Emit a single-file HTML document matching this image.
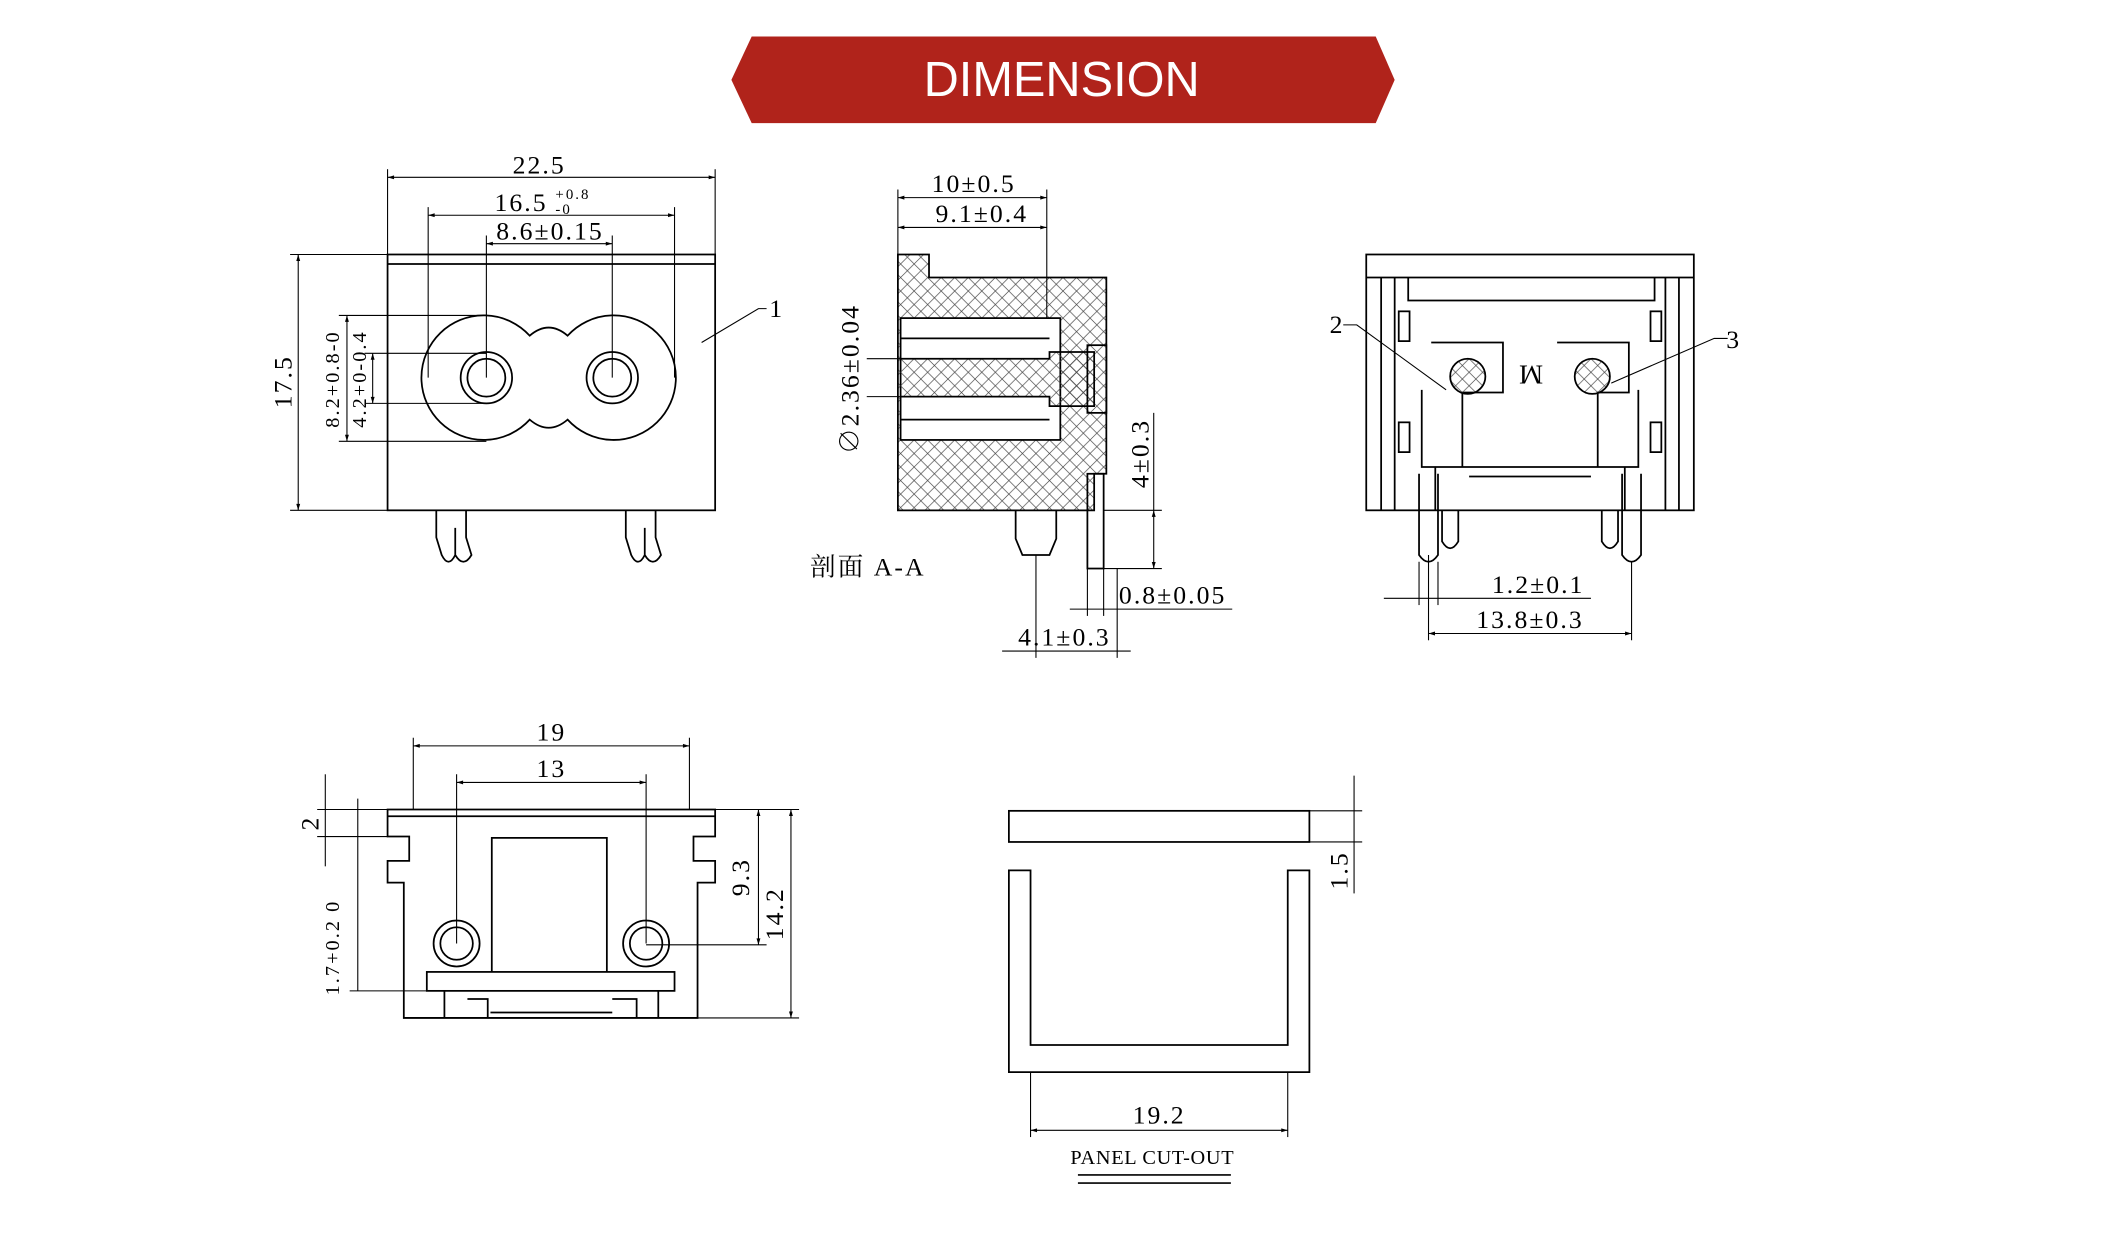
<!DOCTYPE html>
<html><head><meta charset="utf-8"><style>
html,body{margin:0;padding:0;background:#fff}
svg{display:block}
text{font-family:"Liberation Serif","Noto Serif CJK SC",serif;fill:#000}
.d{font-size:19px;letter-spacing:1.5px}
</style></head><body>
<svg width="2122" height="1244" viewBox="0 0 1567 919" xmlns="http://www.w3.org/2000/svg">
<defs>
<marker id="a" viewBox="0 0 10 10" refX="10" refY="5" markerWidth="8" markerHeight="6" orient="auto-start-reverse"><path d="M0,2 L10,5 L0,8z" fill="#000"/></marker>
<pattern id="h" width="10" height="10" patternUnits="userSpaceOnUse"><path d="M0,0 L10,10 M10,0 L0,10" stroke="#444" stroke-width="0.5"/></pattern>
</defs>
<polygon points="555,27 1016,27 1030,59 1016,91 555,91 540,59" fill="#b0231b"/>
<text x="784" y="71" text-anchor="middle" style="font-family:'Liberation Sans',sans-serif;font-size:36px;fill:#fff">DIMENSION</text>

<g fill="none" stroke="#000" stroke-width="1.3">
<rect x="286" y="188" width="242" height="189"/>
<line x1="286" y1="195" x2="528" y2="195"/>
<path d="M391,248 A46,46 0 1 0 391,310 Q405,322 419,310 A46,46 0 1 0 419,248 Q405,236 391,248z"/>
<circle cx="359" cy="279" r="19"/><circle cx="359" cy="279" r="14"/>
<circle cx="452" cy="279" r="19"/><circle cx="452" cy="279" r="14"/>
<path d="M322,377 V397 L326,410 Q331,420 336,410 V390 M344,377 V397 L348,410 Q342,420 336,410"/>
<path d="M462,377 V397 L466,410 Q471,420 476,410 V390 M484,377 V397 L488,410 Q482,420 476,410"/>
<g stroke-width="0.8">
<line x1="286" y1="131" x2="528" y2="131" marker-start="url(#a)" marker-end="url(#a)"/>
<line x1="286" y1="125" x2="286" y2="188"/><line x1="528" y1="125" x2="528" y2="188"/>
<line x1="316" y1="159" x2="498" y2="159" marker-start="url(#a)" marker-end="url(#a)"/>
<line x1="316" y1="153" x2="316" y2="279"/><line x1="498" y1="153" x2="498" y2="279"/>
<line x1="359" y1="180" x2="452" y2="180" marker-start="url(#a)" marker-end="url(#a)"/>
<line x1="359" y1="174" x2="359" y2="279"/><line x1="452" y1="174" x2="452" y2="279"/>
<line x1="220" y1="188" x2="220" y2="377" marker-start="url(#a)" marker-end="url(#a)"/>
<line x1="214" y1="188" x2="286" y2="188"/><line x1="214" y1="377" x2="286" y2="377"/>
<line x1="256" y1="233" x2="256" y2="326" marker-start="url(#a)" marker-end="url(#a)"/>
<line x1="250" y1="233" x2="359" y2="233"/><line x1="250" y1="326" x2="359" y2="326"/>
<line x1="275" y1="261" x2="275" y2="298" marker-start="url(#a)" marker-end="url(#a)"/>
<line x1="269" y1="261" x2="359" y2="261"/><line x1="269" y1="298" x2="359" y2="298"/>
<polyline points="518,253 560,228 566,228"/>
</g>

<path d="M663,188 H686 V205 H817 V350 H808 V377 H663z" fill="url(#h)"/>
<rect x="665" y="235" width="118" height="90" fill="#fff"/>
<path d="M665,265 H775 V260 H808 V300 H775 V293 H665" fill="url(#h)"/>
<line x1="665" y1="250" x2="775" y2="250"/><line x1="665" y1="310" x2="775" y2="310"/>
<rect x="803" y="255" width="14" height="50"/>
<path d="M750,377 V398 L755,410 H775 L780,398 V377"/>
<rect x="803" y="350" width="12" height="70"/>
<g stroke-width="0.8">
<line x1="663" y1="146" x2="773" y2="146" marker-start="url(#a)" marker-end="url(#a)"/>
<line x1="663" y1="168" x2="773" y2="168" marker-start="url(#a)" marker-end="url(#a)"/>
<line x1="663" y1="140" x2="663" y2="188"/><line x1="773" y1="140" x2="773" y2="235"/>
<line x1="640" y1="265" x2="665" y2="265"/><line x1="640" y1="293" x2="665" y2="293"/>
<line x1="852" y1="377" x2="852" y2="420" marker-start="url(#a)" marker-end="url(#a)"/>
<line x1="852" y1="305" x2="852" y2="377"/>
<line x1="815" y1="377" x2="858" y2="377"/><line x1="815" y1="420" x2="858" y2="420"/>
<line x1="803" y1="420" x2="803" y2="455"/><line x1="815" y1="420" x2="815" y2="455"/>
<line x1="790" y1="450" x2="910" y2="450"/>
<line x1="765" y1="410" x2="765" y2="486"/><line x1="825" y1="420" x2="825" y2="486"/>
<line x1="740" y1="481" x2="835" y2="481"/>
</g>

<rect x="1009" y="188" width="242" height="189"/>
<line x1="1009" y1="205" x2="1251" y2="205"/>
<path d="M1040,205 V222 H1222 V205"/>
<path d="M1020,205 V377 M1240,205 V377 M1030,205 V377 M1230,205 V377"/>
<rect x="1033" y="230" width="8" height="22"/><rect x="1033" y="312" width="8" height="22"/>
<rect x="1219" y="230" width="8" height="22"/><rect x="1219" y="312" width="8" height="22"/>
<path d="M1057,253 H1110 V290 H1080 V345 M1150,253 H1203 V290 H1180 V345"/>
<path d="M1050,288 V345 H1210 V288 M1060,345 V377 M1200,345 V377 M1085,352 H1175"/>
<circle cx="1084" cy="278" r="13" fill="url(#h)"/><circle cx="1176" cy="278" r="13" fill="url(#h)"/>
<path d="M1048,350 V410 Q1055,420 1062,410 V350 M1065,377 V400 Q1071,410 1077,400 V377"/>
<path d="M1198,350 V410 Q1205,420 1212,410 V350 M1183,377 V400 Q1189,410 1195,400 V377"/>
<g stroke-width="0.8">
<polyline points="992,240 1002,240 1068,288"/>
<polyline points="1276,250 1266,250 1190,283"/>
<line x1="1048" y1="415" x2="1048" y2="447"/><line x1="1062" y1="415" x2="1062" y2="447"/>
<line x1="1022" y1="442" x2="1175" y2="442"/>
<line x1="1055" y1="410" x2="1055" y2="473"/><line x1="1205" y1="415" x2="1205" y2="473"/>
<line x1="1055" y1="468" x2="1205" y2="468" marker-start="url(#a)" marker-end="url(#a)"/>
</g>

<path d="M286,598 H528 V618 H512 V636 H528 V652 H515 V752 H298 V652 H286 V636 H302 V618 H286z"/>
<line x1="286" y1="603" x2="528" y2="603"/>
<path d="M363,718 V619 H448 V718"/>
<rect x="315" y="718" width="183" height="14"/>
<path d="M328,732 V752 M486,732 V752 M345,738 H360 V752 M452,738 H470 V752 M362,748 H452"/>
<circle cx="337" cy="697" r="17"/><circle cx="337" cy="697" r="12"/>
<circle cx="477" cy="697" r="17"/><circle cx="477" cy="697" r="12"/>
<g stroke-width="0.8">
<line x1="305" y1="551" x2="509" y2="551" marker-start="url(#a)" marker-end="url(#a)"/>
<line x1="305" y1="545" x2="305" y2="598"/><line x1="509" y1="545" x2="509" y2="598"/>
<line x1="337" y1="578" x2="477" y2="578" marker-start="url(#a)" marker-end="url(#a)"/>
<line x1="337" y1="572" x2="337" y2="697"/><line x1="477" y1="572" x2="477" y2="697"/>
<line x1="560" y1="598" x2="560" y2="698" marker-start="url(#a)" marker-end="url(#a)"/>
<line x1="584" y1="598" x2="584" y2="752" marker-start="url(#a)" marker-end="url(#a)"/>
<line x1="528" y1="598" x2="590" y2="598"/><line x1="477" y1="698" x2="566" y2="698"/><line x1="515" y1="752" x2="590" y2="752"/>
<line x1="240" y1="572" x2="240" y2="640"/>
<line x1="234" y1="598" x2="286" y2="598"/><line x1="234" y1="618" x2="286" y2="618"/>
<line x1="264" y1="590" x2="264" y2="732"/><line x1="258" y1="732" x2="315" y2="732"/>
</g>

<rect x="745" y="599" width="222" height="23"/>
<path d="M745,643 H761 V772 H951 V643 H967 V792 H745z"/>
<g stroke-width="0.8">
<line x1="761" y1="792" x2="761" y2="840"/><line x1="951" y1="792" x2="951" y2="840"/>
<line x1="761" y1="835" x2="951" y2="835" marker-start="url(#a)" marker-end="url(#a)"/>
<line x1="967" y1="599" x2="1006" y2="599"/><line x1="967" y1="622" x2="1006" y2="622"/>
<line x1="1000" y1="573" x2="1000" y2="660"/>
<line x1="796" y1="868" x2="909" y2="868" stroke-width="1.2"/>
<line x1="796" y1="874" x2="909" y2="874" stroke-width="1.2"/>
</g>
</g>

<g class="d">
<text x="398" y="128" text-anchor="middle">22.5</text>
<text x="365" y="156">16.5</text><text x="410" y="147" style="font-size:11px">+0.8</text><text x="410" y="158" style="font-size:11px">-0</text>
<text x="406" y="177" text-anchor="middle">8.6±0.15</text>
<text transform="translate(215,282) rotate(-90)" text-anchor="middle">17.5</text>
<text transform="translate(250,280) rotate(-90)" text-anchor="middle" style="font-size:15px">8.2+0.8-0</text>
<text transform="translate(270,280) rotate(-90)" text-anchor="middle" style="font-size:15px">4.2+0-0.4</text>
<text x="568" y="234">1</text>
<text x="719" y="142" text-anchor="middle">10±0.5</text>
<text x="725" y="164" text-anchor="middle">9.1±0.4</text>
<text transform="translate(634,280) rotate(-90)" text-anchor="middle">∅2.36±0.04</text>
<text transform="translate(848,335) rotate(-90)" text-anchor="middle">4±0.3</text>
<text x="598" y="425">剖面 A-A</text>
<text x="866" y="446" text-anchor="middle">0.8±0.05</text>
<text x="786" y="477" text-anchor="middle">4.1±0.3</text>
<text transform="translate(1130,270) rotate(180)" text-anchor="middle" style="font-size:20px">M</text>
<text x="982" y="246">2</text>
<text x="1275" y="257">3</text>
<text x="1136" y="438" text-anchor="middle">1.2±0.1</text>
<text x="1130" y="464" text-anchor="middle">13.8±0.3</text>
<text x="407" y="547" text-anchor="middle">19</text>
<text x="407" y="574" text-anchor="middle">13</text>
<text transform="translate(235,608) rotate(-90)" text-anchor="middle">2</text>
<text transform="translate(250,700) rotate(-90)" text-anchor="middle" style="font-size:15px">1.7+0.2 0</text>
<text transform="translate(553,648) rotate(-90)" text-anchor="middle">9.3</text>
<text transform="translate(578,675) rotate(-90)" text-anchor="middle">14.2</text>
<text x="856" y="830" text-anchor="middle">19.2</text>
<text transform="translate(995,643) rotate(-90)" text-anchor="middle">1.5</text>
<text x="851" y="860" text-anchor="middle" style="font-size:15px;letter-spacing:0.5px">PANEL CUT-OUT</text>
</g>
</svg>
</body></html>
